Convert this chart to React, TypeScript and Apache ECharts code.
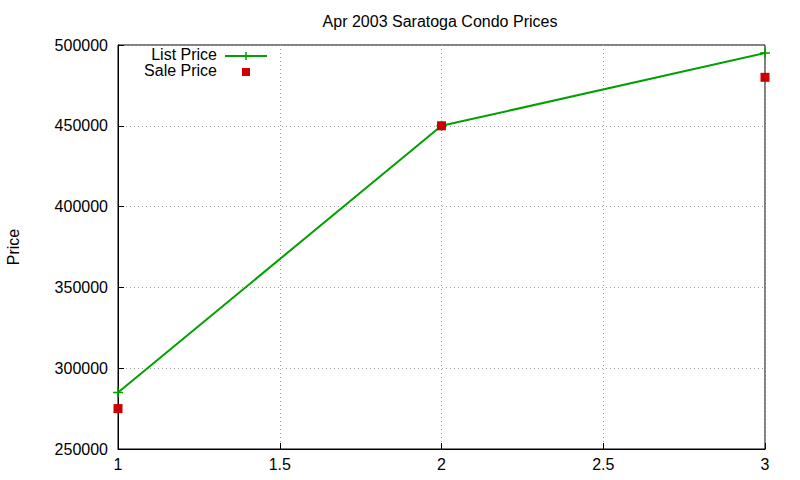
import { useEffect, useRef } from "react"
import * as echarts from "echarts"

const houses = [1, 2, 3]
const listPrice = [285000, 450000, 495000]
const salePrice = [275000, 450000, 480000]
const titleText = "Apr 2003 Saratoga Condo Prices"
const seriesNames = ["List Price", "Sale Price"]

const GREEN = "#00a000"
const RED = "#cc0000"
const FONT = "Liberation Sans"

export default function App() {
  const chartRef = useRef<HTMLDivElement>(null)

  useEffect(() => {
    if (!chartRef.current) return
    const chart = echarts.init(chartRef.current, null, { renderer: "svg" })

    const option = {
      animation: false,
      backgroundColor: "#fff",
      textStyle: { fontFamily: FONT },
      title: {
        text: titleText,
        left: 435,
        top: 8,
        textAlign: "center",
        textStyle: { fontSize: 16, fontWeight: "normal", color: "#000", fontFamily: FONT },
      },
      grid: {
        left: 118,
        right: 35,
        top: 45,
        bottom: 31,
        show: true,
        borderColor: "#000",
        borderWidth: 1,
        containLabel: false,
        outerBoundsMode: "none",
      },
      xAxis: {
        type: "value",
        min: 1,
        max: 3,
        interval: 0.5,
        axisLine: { show: true, lineStyle: { color: "#000" } },
        axisTick: { show: true, inside: true, length: 6, lineStyle: { color: "#000" } },
        axisLabel: { color: "#000", fontSize: 16, margin: 7, fontFamily: FONT },
        splitLine: { show: true, lineStyle: { color: "#a0a0a0", type: [1, 3] } },
      },
      yAxis: {
        type: "value",
        min: 250000,
        max: 500000,
        interval: 50000,
        name: "Price",
        nameLocation: "middle",
        nameGap: 97,
        nameTextStyle: { color: "#000", fontSize: 16, fontFamily: FONT },
        axisLine: { show: true, lineStyle: { color: "#000" } },
        axisTick: { show: true, inside: true, length: 6, lineStyle: { color: "#000" } },
        axisLabel: {
          color: "#000",
          fontSize: 16,
          margin: 10,
          fontFamily: FONT,
          formatter: (v: number) => String(v),
        },
        splitLine: { show: true, lineStyle: { color: "#a0a0a0", type: [1, 3] } },
      },
      series: [
        {
          name: seriesNames[0],
          type: "line",
          data: houses.map((h, i) => [h, listPrice[i]]),
          symbol: "path://M5,0L5,10M0,5L10,5",
          symbolSize: 10,
          showAllSymbol: true,
          lineStyle: { color: GREEN, width: 2 },
          itemStyle: { color: GREEN, borderColor: GREEN, borderWidth: 1.5 },
          z: 2,
        },
        {
          name: seriesNames[1],
          type: "scatter",
          data: houses.map((h, i) => [h, salePrice[i]]),
          symbol: "rect",
          symbolSize: 9,
          itemStyle: { color: RED, opacity: 1 },
          z: 3,
        },
      ],
      graphic: [
        {
          type: "text",
          right: 800 - 217,
          top: 46,
          style: { text: seriesNames[0], fontSize: 16, fill: "#000", fontFamily: FONT },
        },
        {
          type: "text",
          right: 800 - 217,
          top: 62,
          style: { text: seriesNames[1], fontSize: 16, fill: "#000", fontFamily: FONT },
        },
        {
          type: "line",
          shape: { x1: 225, y1: 56, x2: 267, y2: 56 },
          style: { stroke: GREEN, lineWidth: 2 },
        },
        {
          type: "line",
          shape: { x1: 246, y1: 52, x2: 246, y2: 60 },
          style: { stroke: GREEN, lineWidth: 1.5 },
        },
        {
          type: "rect",
          shape: { x: 242, y: 68, width: 8, height: 8 },
          style: { fill: RED },
        },
      ],
    }

    chart.setOption(option)
    return () => {
      chart.dispose()
    }
  }, [])

  return (
    <div
      ref={chartRef}
      style={{ width: 800, height: 480, position: "absolute", left: 0, top: 0 }}
    />
  )
}
